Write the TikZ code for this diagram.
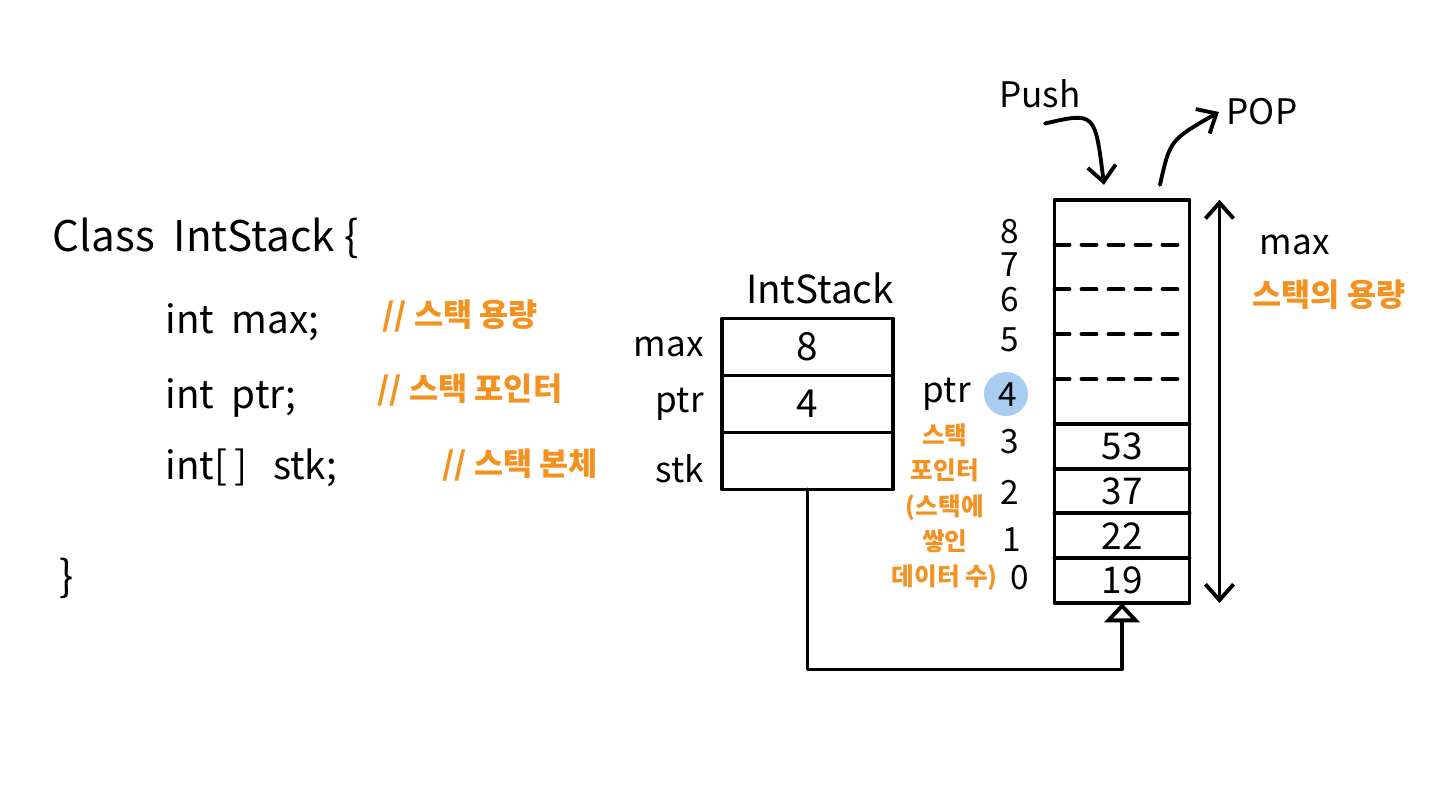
\documentclass[tikz,border=0pt]{standalone}
\usepackage{fontspec}
\setmainfont{Noto Sans CJK KR}
\usetikzlibrary{arrows.meta, positioning, calc}
\definecolor{NoteOrange}{HTML}{F39221}
\definecolor{PtrBlue}{HTML}{A9CDF0}

\begin{document}
\begin{tikzpicture}[x=0.02cm, y=-0.02cm, line width=2.2pt, line cap=round, line join=round,
    code/.style={anchor=west, font=\fontsize{22}{26}\selectfont},
    note/.style={anchor=west, text=NoteOrange, font=\fontsize{18}{22}\selectfont\bfseries},
    cell/.style={draw, outer sep=0pt, minimum width=3.42cm, minimum height=1.14cm, font=\fontsize{22}{26}\selectfont},
    slot/.style={outer sep=0pt, minimum width=2.7cm, minimum height=0.896cm, font=\fontsize{21}{24}\selectfont},
    tag/.style={font=\fontsize{20}{24}\selectfont},
    idx/.style={font=\fontsize{19}{22}\selectfont},
    arr/.style={-{Straight Barb[length=9pt, width=16pt]}},
    gap/.style={dash pattern=on 0.3cm off 0.24cm}]
  \fill[white] (0,0) rectangle (1440,804);
  \useasboundingbox (0,0) rectangle (1440,804);

  % class declaration
  \node (classhead) [code, font=\fontsize{24}{28}\selectfont] at (45,238) {Class\ \ IntStack\ \{};
  \node (maxfield) [code] at (158,322) {int\ \ max;};
  \node (ptrfield) [code] at (158,398) {int\ \ ptr;};
  \node (stkfield) [code] at (158,468) {int[\,]\ \ \ stk;};
  \node (maxnote) [note] at (375,316) {//\ 스택 용량};
  \node (ptrnote) [note] at (370,390) {//\ 스택\ 포인터};
  \node (stknote) [note] at (435,465) {//\ 스택 본체};
  \node (classend) [code, font=\fontsize{24}{28}\selectfont] at (52,578) {\}};

  % IntStack object
  \node (maxcell) [cell] at (807.5,347) {8};
  \node (ptrcell) [cell, below=0pt of maxcell] {4};
  \node (stkcell) [cell, below=0pt of ptrcell] {};
  \node (objtitle) [tag, font=\fontsize{22}{26}\selectfont, above=4pt of maxcell, xshift=0.25cm] {IntStack};
  \node (maxtag) [tag, left=6pt of maxcell] {max};
  \node (ptrtag) [tag, left=6pt of ptrcell] {ptr};
  \node (stktag) [tag, left=6pt of stkcell, yshift=-0.15cm] {stk};

  % stack array
  \foreach \i/\v in {0/19,1/22,2/37,3/53,4/,5/,6/,7/,8/}
    \node (s\i) [slot] at (1122, 580.6-44.8*\i) {\v};
  \draw (s8.north west) rectangle (s0.south east);
  \foreach \i in {0,...,3}
    \draw (s\i.north west) -- (s\i.north east);
  \foreach \i in {4,...,7}
    \draw[gap] (s\i.north west) -- (s\i.north east);

  % indices
  \node (ptrmark) [circle, fill=PtrBlue, minimum size=0.88cm] at (1006,394) {};
  \foreach \i/\x/\y in {0/1020/578,1/1012/540,2/1010/492,3/1010/442,4/1008/395,5/1010/340,6/1010/300,7/1010/265,8/1010/232}
    \node (idx\i) [idx] at (\x,\y) {\i};
  \node (ptridx) [tag, left=2pt of ptrmark] {ptr};
  \node (ptrinfo) [text=NoteOrange, align=center, font=\fontsize{14}{20}\selectfont\bfseries,
    below=-1pt of ptridx, xshift=-0.04cm] {스택\\포인터\\(스택에\\쌓인\\데이터 수)};

  % capacity
  \draw[{Straight Barb[length=9pt, width=16pt]}-{Straight Barb[length=9pt, width=16pt]}]
    ([xshift=0.6cm]s8.north east) -- ([xshift=0.6cm]s0.south east);
  \node (captag) [tag, anchor=west] at (1252,245) {max};
  \node (capnote) [note] at (1245,295) {스택의 용량};

  % push / pop
  \node (pushlbl) [tag] at (1040,94) {Push};
  \node (poplbl) [tag] at (1262,112) {POP};
  \coordinate (pushin) at ([xshift=-0.36cm, yshift=0.3cm]s8.north);
  \coordinate (popout) at ([xshift=0.76cm, yshift=0.3cm]s8.north);
  \draw[arr] ([xshift=0.1cm, yshift=-0.15cm]pushlbl.south) .. controls (1095,112) .. (pushin);
  \draw[arr] (popout) .. controls (1170,140) .. (poplbl.west);

  % pointer from stk to the array
  \draw[-{Triangle[open, length=11pt, width=20pt]}] (stkcell.south) -- ++(0,180) -| (s0.south);
\end{tikzpicture}
\end{document}
